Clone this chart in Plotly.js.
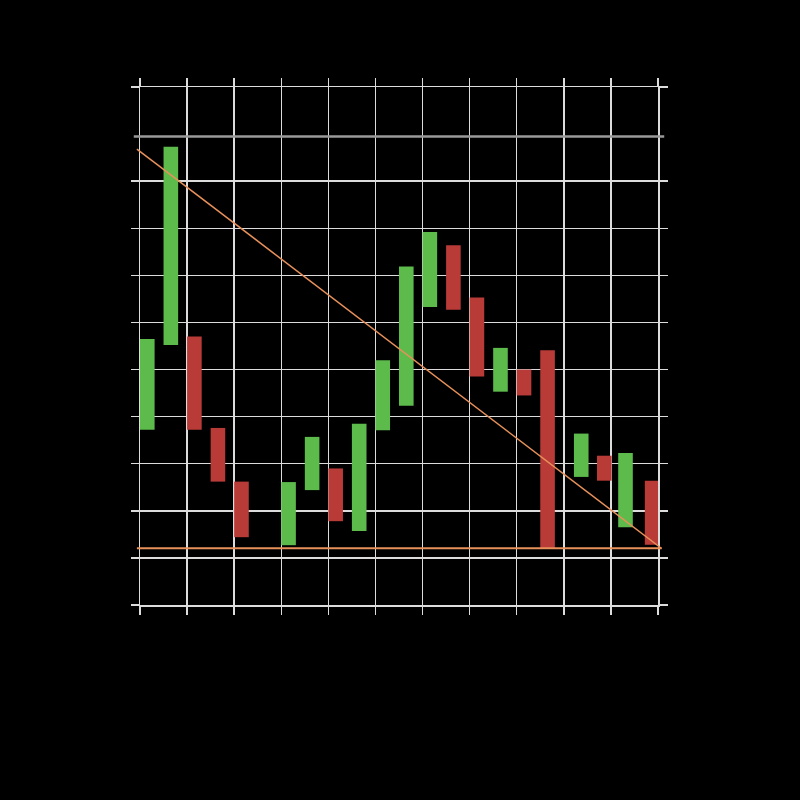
<!DOCTYPE html>
<html>
<head>
<meta charset="utf-8">
<script src="https://cdn.plot.ly/plotly-3.0.1.min.js"></script>
<style>
  html, body { margin: 0; padding: 0; background: #000; }
  #chart { width: 800px; height: 800px; }
</style>
</head>
<body>
<div id="chart"></div>
<script>
// session positions (day index) and open / close values
var days = [0, 1, 2, 3, 4, 6, 7, 8, 9, 10, 11, 12, 13, 14, 15, 16, 17, 18.43, 19.41, 20.31, 21.44];
var openVals  = [37.2, 55.2, 57.0, 37.6, 26.2, 12.7, 24.4, 29.0, 15.7, 37.1, 42.3, 63.3, 76.4, 65.3, 45.3, 50.0, 54.1, 27.2, 31.7, 16.5, 26.4];
var closeVals = [56.5, 97.3, 37.2, 26.2, 14.4, 26.1, 35.7, 17.8, 38.5, 52.0, 71.9, 79.2, 62.7, 48.5, 54.6, 44.5, 12.1, 36.4, 26.4, 32.3, 12.8];

// drawn lines: trend line start/end, support level, resistance level
var trendLine = [96.8, 12.0];
var supportLevel = 12.05;
var resistanceLevel = 99.5;

var upX = [], upBase = [], upLen = [];
var downX = [], downBase = [], downLen = [];
for (var i = 0; i < days.length; i++) {
  var lo = Math.min(openVals[i], closeVals[i]);
  var hi = Math.max(openVals[i], closeVals[i]);
  if (closeVals[i] >= openVals[i]) {
    upX.push(days[i]); upBase.push(lo); upLen.push(hi - lo);
  } else {
    downX.push(days[i]); downBase.push(lo); downLen.push(hi - lo);
  }
}

var up = {
  type: "bar",
  x: upX,
  y: upLen,
  base: upBase,
  offset: 0,
  width: 0.62,
  marker: {color: "#5dbb4c", line: {width: 0}},
  hoverinfo: "skip",
  showlegend: false
};

var down = {
  type: "bar",
  x: downX,
  y: downLen,
  base: downBase,
  offset: 0,
  width: 0.62,
  marker: {color: "#b93b37", line: {width: 0}},
  hoverinfo: "skip",
  showlegend: false
};

var gridY = [0, 10, 20, 30, 40, 50, 60, 70, 80, 90, 110];

var axisStyle = {
  showgrid: true,
  gridcolor: "#dcdcdc",
  gridwidth: 1.5,
  zeroline: false,
  showline: true,
  linecolor: "#dcdcdc",
  linewidth: 1.5,
  ticks: "outside",
  ticklen: 8,
  tickcolor: "#dcdcdc",
  tickwidth: 1.5,
  mirror: "ticks",
  showticklabels: false
};

var layout = {
  width: 800,
  height: 800,
  paper_bgcolor: "#000000",
  plot_bgcolor: "#000000",
  margin: {l: 140, r: 142, t: 87, b: 195},
  barmode: "overlay",
  showlegend: false,
  xaxis: Object.assign({range: [0, 22], tick0: 0, dtick: 2}, axisStyle),
  yaxis: Object.assign({range: [0, 110], tickmode: "array", tickvals: gridY}, axisStyle),
  shapes: [
    {type: "line", xref: "paper", yref: "y", x0: -0.012, x1: 1.012,
     y0: resistanceLevel, y1: resistanceLevel,
     line: {color: "#9a9a9a", width: 2.5}},
    {type: "line", xref: "paper", yref: "y", x0: -0.006, x1: 1.007,
     y0: trendLine[0], y1: trendLine[1],
     line: {color: "#e8915a", width: 1.5}},
    {type: "line", xref: "paper", yref: "y", x0: -0.006, x1: 1.007,
     y0: supportLevel, y1: supportLevel,
     line: {color: "#e8915a", width: 2}}
  ]
};

Plotly.newPlot("chart", [up, down], layout, {displayModeBar: false, staticPlot: true});
</script>
</body>
</html>
